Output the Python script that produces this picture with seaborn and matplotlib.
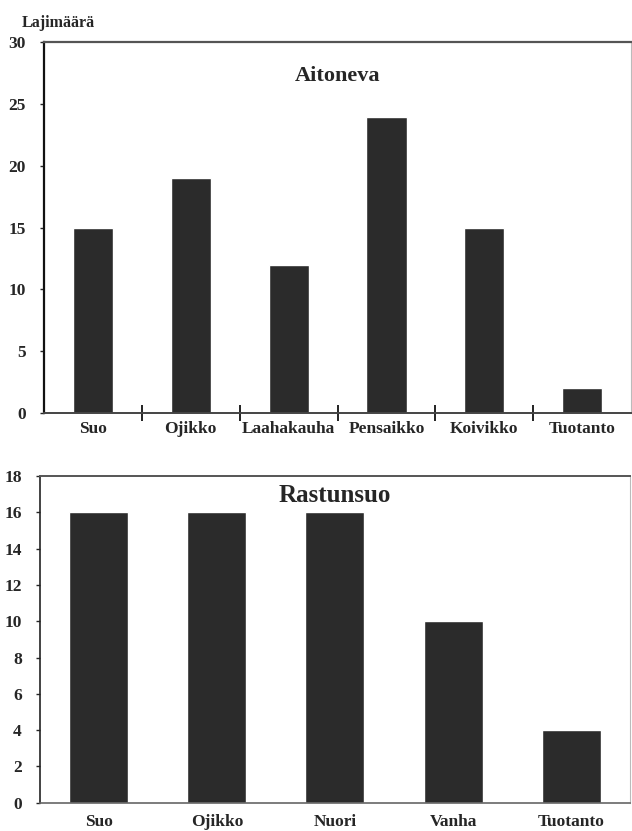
import pandas as pd
import matplotlib.pyplot as plt
import seaborn as sns
from matplotlib.ticker import MultipleLocator

# species counts
aito_sites = ['Suo', 'Ojikko', 'Laahakauha', 'Pensaikko', 'Koivikko', 'Tuotanto']
aito_counts = [15, 19, 12, 24, 15, 2]

rastu_sites = ['Suo', 'Ojikko', 'Nuori', 'Vanha', 'Tuotanto']
rastu_counts = [16, 16, 16, 10, 4]

sns.set_style('white')
plt.rcParams['font.family'] = ['Liberation Serif', 'DejaVu Serif']
plt.rcParams['font.weight'] = 'bold'

bar_col = '#2b2b2b'

fig = plt.figure(figsize=(6.32, 8.31), dpi=100)

# top panel: Aitoneva
ax1 = fig.add_axes([0.0696, 0.503, 0.929, 0.446])
df1 = pd.DataFrame({'site': aito_sites, 'n': aito_counts})
sns.barplot(data=df1, x='site', y='n', color=bar_col, width=0.41,
            saturation=1, ax=ax1)
ax1.set_ylim(0, 30)
ax1.set_xlim(-0.5, len(aito_sites) - 0.5)
ax1.yaxis.set_major_locator(MultipleLocator(5))
ax1.set_xlabel('')
ax1.set_ylabel('')
ax1.tick_params(axis='x', which='major', length=0, pad=6, labelsize=12.5)
# little marks between the categories
ax1.set_xticks([i + 0.5 for i in range(len(aito_sites) - 1)], minor=True)
ax1.tick_params(axis='x', which='minor', bottom=True, length=12, width=1.4,
                direction='inout', color='#222222')
ax1.tick_params(axis='y', length=3, width=1, direction='out', pad=10,
                labelsize=12.5, left=True)
ax1.text(0.5, 0.91, 'Aitoneva', transform=ax1.transAxes, ha='center',
         va='center', fontsize=16, fontweight='bold')
fig.text(0.035, 0.972, 'Lajimäärä', fontsize=11.5, fontweight='bold',
         ha='left', va='center')

for side, col, lw in [('left', '#111111', 1.6), ('top', '#555555', 1.6),
                      ('bottom', '#444444', 1.4), ('right', '#bbbbbb', 0.8)]:
    ax1.spines[side].set_color(col)
    ax1.spines[side].set_linewidth(lw)

# bottom panel: Rastunsuo
ax2 = fig.add_axes([0.063, 0.034, 0.934, 0.393])
df2 = pd.DataFrame({'site': rastu_sites, 'n': rastu_counts})
sns.barplot(data=df2, x='site', y='n', color=bar_col, width=0.5,
            saturation=1, ax=ax2)
ax2.set_ylim(0, 18)
ax2.set_xlim(-0.5, len(rastu_sites) - 0.5)
ax2.yaxis.set_major_locator(MultipleLocator(2))
ax2.set_xlabel('')
ax2.set_ylabel('')
ax2.tick_params(axis='x', which='major', length=0, pad=8, labelsize=12.5)
ax2.tick_params(axis='y', length=3, width=1, direction='out', pad=10,
                labelsize=12.5, left=True)
ax2.text(0.5, 0.94, 'Rastunsuo', transform=ax2.transAxes, ha='center',
         va='center', fontsize=18, fontweight='bold')

for side, col, lw in [('left', '#222222', 1.2), ('top', '#555555', 1.4),
                      ('bottom', '#666666', 1.2), ('right', '#bbbbbb', 0.8)]:
    ax2.spines[side].set_color(col)
    ax2.spines[side].set_linewidth(lw)

fig.savefig('out.png', dpi=100)
